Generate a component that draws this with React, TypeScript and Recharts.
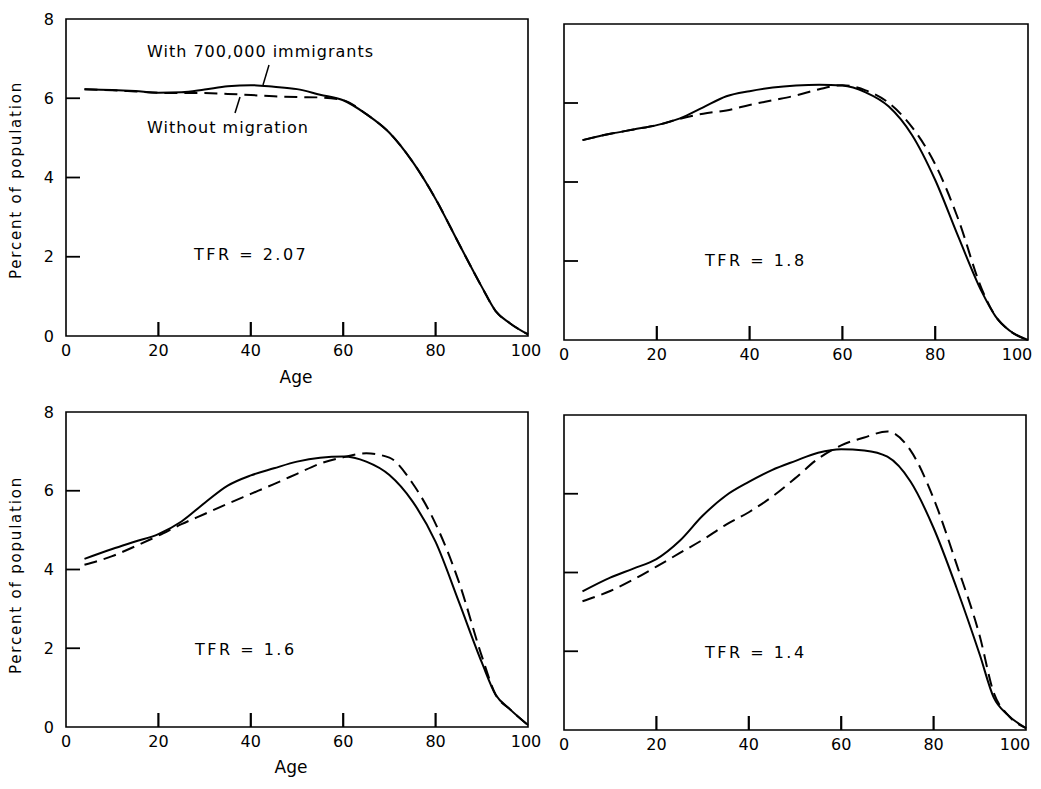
import React from 'react'
import { LineChart, Line, XAxis, YAxis, ReferenceArea, ReferenceLine } from 'recharts'

// age of each reading (years)
const ages = [4, 10, 15, 20, 25, 30, 35, 40, 45, 50, 55, 60, 65, 70, 75, 80, 85, 90, 93, 96, 100]

// percent of population
// TFR = 2.07
const with207 = [6.23, 6.21, 6.18, 6.14, 6.15, 6.22, 6.3, 6.33, 6.29, 6.23, 6.09, 5.95, 5.6, 5.13, 4.4, 3.46, 2.34, 1.24, 0.63, 0.33, 0.04]
const without207 = [6.23, 6.2, 6.17, 6.14, 6.13, 6.13, 6.11, 6.08, 6.05, 6.03, 6.02, 5.95, 5.6, 5.13, 4.4, 3.46, 2.34, 1.24, 0.63, 0.33, 0.04]
// TFR = 1.8
const with18 = [5.06, 5.22, 5.33, 5.44, 5.61, 5.89, 6.17, 6.3, 6.39, 6.44, 6.46, 6.44, 6.27, 5.91, 5.19, 4.05, 2.61, 1.23, 0.6, 0.24, 0]
const without18 = [5.06, 5.22, 5.33, 5.44, 5.6, 5.73, 5.81, 5.95, 6.07, 6.19, 6.35, 6.45, 6.32, 6.0, 5.39, 4.45, 3.05, 1.3, 0.6, 0.24, 0]
// TFR = 1.6
const with16 = [4.27, 4.52, 4.71, 4.9, 5.22, 5.69, 6.13, 6.39, 6.57, 6.74, 6.84, 6.87, 6.74, 6.4, 5.73, 4.7, 3.19, 1.64, 0.82, 0.46, 0.05]
const without16 = [4.12, 4.34, 4.59, 4.86, 5.15, 5.41, 5.67, 5.92, 6.17, 6.43, 6.69, 6.85, 6.95, 6.84, 6.19, 5.16, 3.7, 1.8, 0.82, 0.46, 0.05]
// TFR = 1.4
const with14 = [3.52, 3.87, 4.1, 4.34, 4.8, 5.44, 5.95, 6.3, 6.6, 6.83, 7.04, 7.13, 7.1, 6.94, 6.31, 5.13, 3.6, 1.91, 0.83, 0.39, 0.05]
const without14 = [3.27, 3.53, 3.82, 4.15, 4.49, 4.83, 5.21, 5.53, 5.92, 6.39, 6.89, 7.23, 7.43, 7.58, 7.1, 5.88, 4.2, 2.38, 0.95, 0.39, 0.05]

const xTicks = [0, 20, 40, 60, 80, 100]
const yTicks = [0, 2, 4, 6, 8]
const innerXTicks = [20, 40, 60, 80]

const FONT = '"DejaVu Sans", sans-serif'
const AXIS_W = 66
const PAD_TOP = 20
const AXIS_H = 50
const TICK_LEN = 14

function rows(withM: number[], withoutM: number[]) {
  return ages.map((age, i) => ({ age, withM: withM[i], withoutM: withoutM[i] }))
}

interface PanelProps {
  left: number
  top: number
  plotW: number
  plotH: number
  withM: number[]
  withoutM: number[]
  yLabels: boolean
  lastDx: number
}

function Panel({ left, top, plotW, plotH, withM, withoutM, yLabels, lastDx }: PanelProps) {
  const data = rows(withM, withoutM)
  // tick mark length in y units, so the age ticks point up into the frame
  const tickUnits = (TICK_LEN * 8) / plotH

  const xTick = (p: any) => {
    const v = p.payload.value
    return (
      <text x={p.x + (v === 100 ? lastDx : 0)} y={p.y + 20} textAnchor="middle"
        fontFamily={FONT} fontSize={16} fill="#000">
        {v}
      </text>
    )
  }

  const yTick = (p: any) => {
    const v = p.payload.value
    return (
      <g>
        {v > 0 && v < 8 && (
          <line x1={p.x} y1={p.y} x2={p.x + 14} y2={p.y} stroke="#000" strokeWidth={1.8} />
        )}
        {yLabels && (
          <text x={p.x - 12} y={p.y + 5.5} textAnchor="end" fontFamily={FONT} fontSize={16} fill="#000">
            {v}
          </text>
        )}
      </g>
    )
  }

  return (
    <div style={{ position: 'absolute', left: left - AXIS_W, top: top - PAD_TOP }}>
      <LineChart
        width={plotW + AXIS_W + 14}
        height={plotH + PAD_TOP + AXIS_H}
        data={data}
        margin={{ top: PAD_TOP, right: 14, bottom: 0, left: 0 }}
      >
        <XAxis type="number" dataKey="age" domain={[0, 100]} ticks={xTicks} interval={0}
          axisLine={false} tickLine={false} tickSize={0} tickMargin={0} height={AXIS_H} tick={xTick} />
        <YAxis type="number" domain={[0, 8]} ticks={yTicks} interval={0}
          axisLine={false} tickLine={false} tickSize={0} tickMargin={0} width={AXIS_W} tick={yTick} />
        <ReferenceArea x1={0} x2={100} y1={0} y2={8} fill="none" stroke="#000" strokeWidth={1.6} />
        {innerXTicks.map((v) => (
          <ReferenceLine key={v} segment={[{ x: v, y: 0 }, { x: v, y: tickUnits }]}
            stroke="#000" strokeWidth={2.2} />
        ))}
        <Line type="monotone" dataKey="withoutM" stroke="#000" strokeWidth={2}
          strokeDasharray="13 7" dot={false} isAnimationActive={false} />
        <Line type="monotone" dataKey="withM" stroke="#000" strokeWidth={2}
          dot={false} isAnimationActive={false} />
      </LineChart>
    </div>
  )
}

export default function App() {
  return (
    <div style={{ position: 'absolute', left: 0, top: 0, width: 1041, height: 789, background: '#fff' }}>
      <Panel left={66} top={19} plotW={462} plotH={317} withM={with207} withoutM={without207} yLabels lastDx={-2} />
      <Panel left={564} top={24} plotW={464} plotH={316} withM={with18} withoutM={without18} yLabels={false} lastDx={-11} />
      <Panel left={66} top={412} plotW={462} plotH={315} withM={with16} withoutM={without16} yLabels lastDx={-2} />
      <Panel left={564} top={415} plotW={462} plotH={315} withM={with14} withoutM={without14} yLabels={false} lastDx={-11} />

      <svg width={1041} height={789} style={{ position: 'absolute', left: 0, top: 0, pointerEvents: 'none' }}
        fontFamily={FONT} fill="#000">
        <text x={147} y={57} fontSize={16} letterSpacing={1}>With 700,000 immigrants</text>
        <line x1={269} y1={65} x2={263} y2={85} stroke="#000" strokeWidth={1.5} />
        <text x={147} y={133} fontSize={16} letterSpacing={1}>Without migration</text>
        <line x1={240} y1={97} x2={235} y2={113} stroke="#000" strokeWidth={1.5} />

        <text x={194} y={260} fontSize={16} letterSpacing={2.5}>TFR = 2.07</text>
        <text x={705} y={266} fontSize={16} letterSpacing={2.5}>TFR = 1.8</text>
        <text x={195} y={655} fontSize={16} letterSpacing={2.5}>TFR = 1.6</text>
        <text x={705} y={658} fontSize={16} letterSpacing={2.5}>TFR = 1.4</text>

        <text x={296} y={383} fontSize={17} textAnchor="middle">Age</text>
        <text x={291} y={773} fontSize={17} textAnchor="middle">Age</text>

        <text x={21} y={180} fontSize={15} letterSpacing={1.8} textAnchor="middle"
          transform="rotate(-90 21 180)">Percent of population</text>
        <text x={21} y={575} fontSize={15} letterSpacing={1.8} textAnchor="middle"
          transform="rotate(-90 21 575)">Percent of population</text>
      </svg>
    </div>
  )
}
